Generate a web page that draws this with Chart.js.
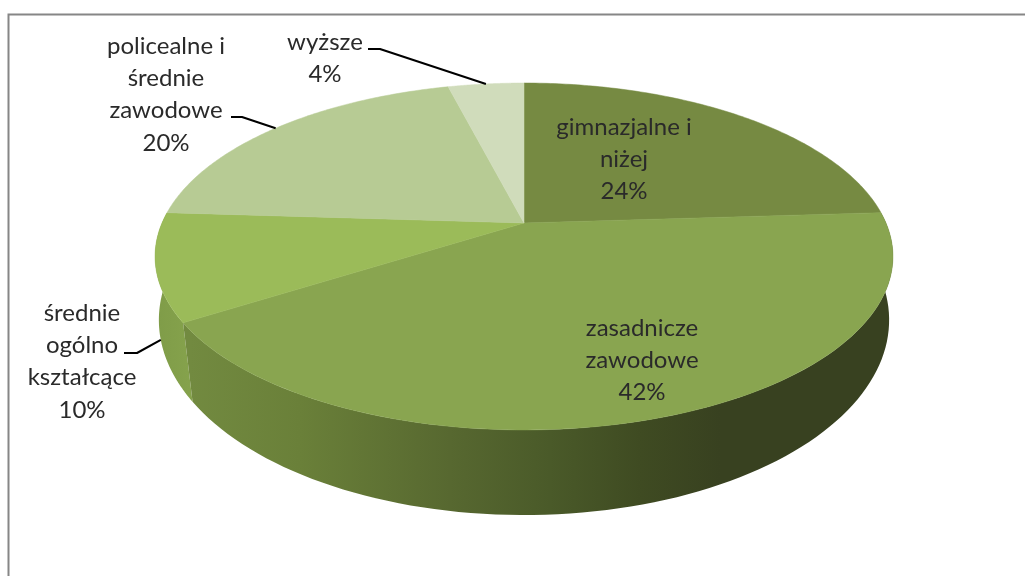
<!DOCTYPE html>
<html lang="pl">
<head>
    <meta charset="UTF-8">
    <title>Wykształcenie</title>
    <style>
        html, body { margin: 0; padding: 0; background: #fff; overflow: hidden; }
        canvas { display: block; }
    </style>
</head>
<body>
    <canvas id="pieChart" width="1025" height="576"></canvas>

    <script src="https://cdn.jsdelivr.net/npm/chart.js"></script>
    <script>
        const categories = ['gimnazjalne i\nniżej', 'zasadnicze\nzawodowe', 'średnie\nogólno\nkształcące', 'policealne i\nśrednie\nzawodowe', 'wyższe'];
        const shares = [24, 42, 10, 20, 4];
        const topColors = ['#768a42', '#89a550', '#9bbb59', '#b7cb94', '#d0dcbb'];

        // perspective of the disc: top face and bottom face
        const topFace = { x: 524, y: 223, a: 362, b: 167, k: 0.193 };
        const lowFace = { x: 524, y: 290.7, a: 361, b: 190.7, k: 0.15 };

        function project(face, angle) {
            const u = Math.cos(angle), v = Math.sin(angle);
            const w = 1 - face.k * v;
            return { x: face.x + face.a * u / w, y: face.y + face.b * v / w };
        }

        // side wall shading, by canvas x
        const wallStops = {
            1: [[190, '#728a40'], [300, '#6a8039'], [450, '#576830'], [550, '#4a5a29'], [640, '#3f4b22'], [720, '#384120'], [900, '#384120']],
            2: [[155, '#7f9c48'], [190, '#85a24c']]
        };

        // where each label sits, and whether it has a leader line
        const labelBoxes = [
            { x: 624, y: 127 },
            { x: 642, y: 328 },
            { x: 82, y: 313, leader: [[124, 353], [137, 353]], face: lowFace },
            { x: 166, y: 46, leader: [[231, 117], [242, 117]], face: topFace },
            { x: 325, y: 42, leader: [[368, 49], [380, 49]], face: topFace }
        ];

        const disc3d = {
            id: 'disc3d',
            beforeDraw(chart) {
                const ctx = chart.ctx;
                ctx.save();
                ctx.fillStyle = '#fff';
                ctx.fillRect(0, 0, chart.width, chart.height);
                ctx.strokeStyle = '#868686';
                ctx.lineWidth = 2;
                ctx.strokeRect(8.5, 14.5, 1100, 700);
                ctx.restore();
            },
            beforeDatasetDraw(chart) {
                const ctx = chart.ctx;
                const arcs = chart.getDatasetMeta(0).data;
                ctx.save();

                // walls, far slices first
                [2, 1].forEach(i => {
                    const x0 = wallStops[i][0][0], x1 = wallStops[i][wallStops[i].length - 1][0];
                    const grad = ctx.createLinearGradient(x0, 0, x1, 0);
                    wallStops[i].forEach(s => grad.addColorStop((s[0] - x0) / (x1 - x0), s[1]));
                    ctx.fillStyle = grad;
                    ctx.beginPath();
                    const a0 = arcs[i].startAngle, a1 = arcs[i].endAngle, steps = 90;
                    for (let s = 0; s <= steps; s++) {
                        const p = project(topFace, a0 + (a1 - a0) * s / steps);
                        ctx.lineTo(p.x, p.y);
                    }
                    for (let s = steps; s >= 0; s--) {
                        const p = project(lowFace, a0 + (a1 - a0) * s / steps);
                        ctx.lineTo(p.x, p.y);
                    }
                    ctx.closePath();
                    ctx.fill();
                });

                // top face
                arcs.forEach(arc => {
                    const col = arc.options.backgroundColor;
                    ctx.fillStyle = col;
                    ctx.strokeStyle = col;
                    ctx.lineWidth = 0.5;
                    ctx.beginPath();
                    ctx.moveTo(topFace.x, topFace.y);
                    const steps = 120;
                    for (let s = 0; s <= steps; s++) {
                        const p = project(topFace, arc.startAngle + (arc.endAngle - arc.startAngle) * s / steps);
                        ctx.lineTo(p.x, p.y);
                    }
                    ctx.closePath();
                    ctx.fill();
                    ctx.stroke();
                });
                ctx.restore();
                return false; // the disc replaces the flat pie
            },
            afterDraw(chart) {
                const ctx = chart.ctx;
                const arcs = chart.getDatasetMeta(0).data;
                ctx.save();
                ctx.font = '24px Lato';
                ctx.textAlign = 'center';
                ctx.textBaseline = 'middle';
                ctx.lineJoin = 'round';
                labelBoxes.forEach((box, i) => {
                    const lines = categories[i].split('\n').concat(shares[i] + '%');
                    ctx.fillStyle = '#2a2a2a';
                    lines.forEach((t, n) => ctx.fillText(t, box.x, box.y + n * 32.3));
                    if (box.leader) {
                        const end = project(box.face, (arcs[i].startAngle + arcs[i].endAngle) / 2);
                        ctx.strokeStyle = '#000';
                        ctx.lineWidth = 2;
                        ctx.beginPath();
                        ctx.moveTo(box.leader[0][0], box.leader[0][1]);
                        ctx.lineTo(box.leader[1][0], box.leader[1][1]);
                        ctx.lineTo(end.x, end.y);
                        ctx.stroke();
                    }
                });
                ctx.restore();
            }
        };

        new Chart(document.getElementById('pieChart'), {
            type: 'pie',
            data: {
                labels: categories,
                datasets: [{ data: shares, backgroundColor: topColors, borderWidth: 0 }]
            },
            options: {
                responsive: false,
                animation: false,
                plugins: { legend: { display: false }, tooltip: { enabled: false } }
            },
            plugins: [disc3d]
        });
    </script>
</body>
</html>
